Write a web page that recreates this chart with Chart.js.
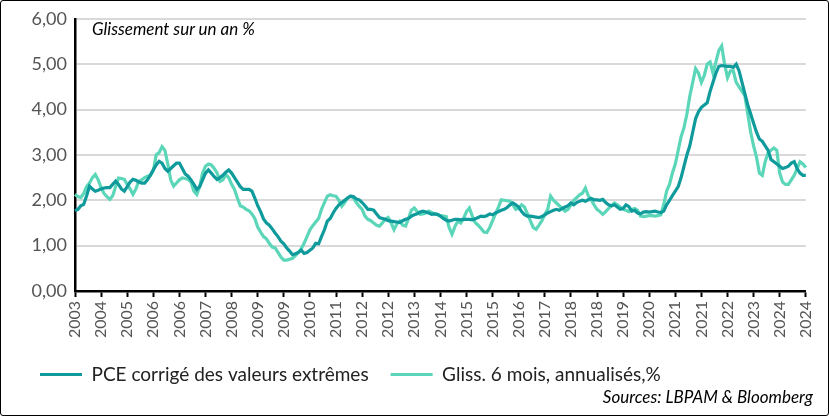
<!DOCTYPE html>
<html><head><meta charset="utf-8">
<script src="https://cdn.jsdelivr.net/npm/chart.js@4"></script>
<style>
body{margin:0;width:829px;height:416px;overflow:hidden;background:#fff;font-family:Lato,sans-serif}
#wrap{position:absolute;left:0;top:0;width:827px;height:414px;border:1px solid #000;border-radius:3px}
canvas{position:absolute;left:0;top:0}
#title{position:absolute;left:92px;top:18px;font-style:italic;font-size:17px;color:#000}
#src{position:absolute;right:16px;top:386px;font-style:italic;font-size:17px;color:#000}
</style></head><body>
<div id="wrap"></div>
<canvas id="c" width="829" height="416"></canvas>
<div id="title">Glissement sur un an %</div>
<div id="src">Sources: LBPAM &amp; Bloomberg</div>
<script>
const tickLabels=["2003","2004","2005","2006","2006","2007","2008","2009","2009","2010","2011","2012","2012","2013","2014","2015","2015","2016","2017","2018","2018","2019","2020","2021","2021","2022","2023","2024","2024"];
const pce=[1.77,1.8,1.88,1.91,2.1,2.31,2.25,2.2,2.22,2.25,2.27,2.28,
2.28,2.35,2.42,2.35,2.25,2.2,2.3,2.4,2.46,2.44,2.4,2.38,
2.38,2.45,2.55,2.67,2.78,2.86,2.82,2.7,2.64,2.7,2.76,2.82,
2.82,2.7,2.58,2.53,2.45,2.35,2.24,2.3,2.45,2.6,2.67,2.6,
2.52,2.46,2.5,2.55,2.62,2.67,2.6,2.5,2.4,2.3,2.24,2.24,
2.24,2.2,2.05,1.88,1.75,1.59,1.5,1.45,1.37,1.28,1.2,1.1,
1.04,0.95,0.88,0.8,0.82,0.85,0.9,0.83,0.85,0.9,0.95,1.05,
1.04,1.2,1.35,1.54,1.6,1.72,1.82,1.9,1.95,2.0,2.05,2.09,
2.08,2.03,2.01,1.95,1.88,1.8,1.8,1.78,1.7,1.62,1.6,1.58,
1.55,1.54,1.53,1.52,1.51,1.55,1.58,1.6,1.65,1.68,1.7,1.74,
1.76,1.74,1.72,1.69,1.7,1.69,1.65,1.6,1.56,1.54,1.56,1.58,
1.58,1.57,1.58,1.58,1.58,1.57,1.59,1.62,1.65,1.64,1.66,1.7,
1.68,1.72,1.75,1.78,1.8,1.84,1.9,1.94,1.9,1.85,1.75,1.68,
1.65,1.65,1.64,1.63,1.62,1.64,1.68,1.72,1.75,1.78,1.8,1.78,
1.82,1.85,1.88,1.94,1.9,1.95,1.98,2.0,1.98,2.01,2.04,2.01,
2.01,2.0,2.02,1.95,1.9,1.88,1.9,1.85,1.8,1.82,1.9,1.86,
1.76,1.78,1.72,1.7,1.74,1.75,1.74,1.75,1.76,1.74,1.73,1.76,
1.9,2.0,2.1,2.2,2.3,2.5,2.75,3.0,3.2,3.5,3.8,3.95,
4.05,4.1,4.15,4.4,4.6,4.8,4.95,4.97,4.96,4.95,4.95,4.93,
5.0,4.85,4.6,4.35,4.1,3.9,3.7,3.5,3.35,3.3,3.2,3.1,
2.9,2.85,2.8,2.75,2.7,2.72,2.75,2.82,2.85,2.7,2.6,2.55,2.55];
const gliss=[2.13,2.08,2.06,2.15,2.3,2.38,2.5,2.57,2.45,2.28,2.15,2.08,
2.02,2.1,2.3,2.49,2.48,2.46,2.35,2.25,2.13,2.25,2.42,2.45,
2.5,2.53,2.55,2.65,3.0,3.05,3.18,3.1,2.8,2.45,2.31,2.38,
2.45,2.49,2.48,2.46,2.4,2.2,2.13,2.3,2.6,2.75,2.8,2.78,
2.7,2.6,2.42,2.45,2.57,2.5,2.35,2.24,2.05,1.88,1.85,1.8,
1.77,1.7,1.6,1.41,1.3,1.2,1.15,1.05,0.97,0.95,0.85,0.75,
0.68,0.68,0.7,0.72,0.78,0.85,0.93,1.05,1.2,1.35,1.44,1.52,
1.6,1.8,1.95,2.09,2.12,2.1,2.09,2.0,1.87,1.95,2.05,2.09,
2.05,1.95,1.87,1.8,1.65,1.58,1.55,1.5,1.45,1.43,1.5,1.58,
1.62,1.5,1.35,1.48,1.54,1.45,1.43,1.6,1.78,1.83,1.75,1.69,
1.7,1.72,1.76,1.73,1.7,1.68,1.66,1.65,1.64,1.4,1.25,1.42,
1.54,1.5,1.6,1.75,1.83,1.65,1.51,1.45,1.38,1.3,1.29,1.4,
1.55,1.7,1.85,2.01,2.0,1.99,1.98,1.9,1.8,1.82,1.9,1.85,
1.7,1.55,1.4,1.36,1.45,1.55,1.69,1.8,2.09,2.0,1.94,1.88,
1.82,1.76,1.8,1.9,2.0,2.06,2.12,2.16,2.27,2.1,2.01,1.9,
1.8,1.75,1.69,1.75,1.82,1.88,1.94,1.9,1.85,1.8,1.78,1.75,
1.8,1.82,1.78,1.65,1.64,1.65,1.66,1.66,1.65,1.66,1.68,1.9,
2.2,2.35,2.6,2.8,3.1,3.4,3.6,3.9,4.3,4.6,4.9,4.8,
4.6,4.75,5.0,5.05,4.8,5.05,5.3,5.4,5.0,4.7,4.85,4.85,
4.6,4.5,4.4,4.3,3.9,3.5,3.2,2.95,2.6,2.55,2.85,3.05,
3.1,3.15,3.1,2.6,2.4,2.35,2.35,2.45,2.55,2.7,2.85,2.8,2.72];
const STEP=9;
const labels=pce.map((v,i)=>i%STEP===0?tickLabels[i/STEP]:'');
new Chart(document.getElementById('c'),{
type:'line',
data:{labels,datasets:[
{label:'PCE corrigé des valeurs extrêmes',data:pce,borderColor:'#0f9a9b',borderWidth:3.2,pointRadius:0,tension:0},
{label:'Gliss. 6 mois, annualisés,%',data:gliss,borderColor:'#5bd6b8',borderWidth:3.2,pointRadius:0,tension:0}
]},
options:{responsive:false,animation:false,
layout:{padding:{left:18,right:21,top:15,bottom:22}},
plugins:{tooltip:{enabled:false},
legend:{position:'bottom',align:'start',labels:{usePointStyle:true,pointStyle:'line',pointStyleWidth:42,boxHeight:3,color:'#222',font:{family:'Lato',size:19},padding:22},
 onClick:null}},
scales:{
x:{offset:false,afterFit:s=>{s.height=52},
 grid:{drawOnChartArea:false,drawTicks:true,tickLength:6,tickWidth:2,tickColor:'#000',color:'#000'},
 border:{color:'#000',width:2.5},
 ticks:{autoSkip:false,maxRotation:90,minRotation:90,padding:4,color:'#555',font:{family:'Lato',size:16},
  callback:function(v,i){return i%STEP===0?tickLabels[i/STEP]:null}}},
y:{min:0,max:6,afterFit:s=>{s.width=57},
 grid:{color:'#d9d9d9',lineWidth:2,drawTicks:false},
 border:{color:'#000',width:2.5},
 ticks:{stepSize:1,padding:8,color:'#555',font:{family:'Lato',size:18},callback:v=>v.toFixed(2).replace('.',',')}}
}}});
</script></body></html>
